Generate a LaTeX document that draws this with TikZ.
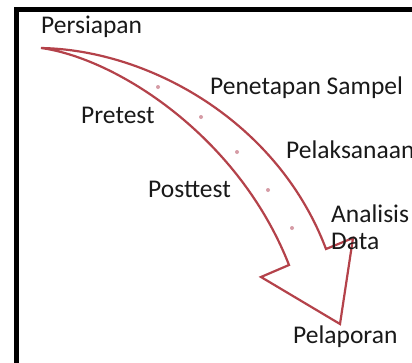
\documentclass[tikz,border=0pt]{standalone}
\usepackage{fontspec}
\setmainfont{Carlito}
\definecolor{arrowred}{RGB}{180,66,74}
\definecolor{dotpink}{RGB}{214,156,166}
\definecolor{textdark}{RGB}{25,25,25}
\begin{document}
\begin{tikzpicture}[x=1pt,y=-1pt,
  lbl/.style={anchor=base west,inner sep=0pt,text=textdark,font=\fontsize{25.5}{30}\selectfont},
  arrowline/.style={draw=arrowred,line width=2.2pt,line join=miter},
  dotmark/.style={fill=dotpink,draw=none}]
\useasboundingbox (0,0) rectangle (412,362);
\fill[white] (0,0) rectangle (412,362);
\draw[line width=4.5pt] (16.5,9.5) rectangle (440,390);
% arrow
\coordinate (s) at (41,48);
\coordinate (oe) at (326,249);
\coordinate (hr) at (353,238);
\coordinate (tip) at (340,324);
\coordinate (hl) at (261,277);
\coordinate (ie) at (289,265);
\draw[arrowline] (s) .. controls (150,50) and (278,122) .. (oe) -- (hr) -- (tip) -- (hl) -- (ie)
  .. controls (238,135) and (115,58) .. (s) -- cycle;
% dots
\foreach \p in {(158,87),(201,117),(237,152),(268,190),(292,228)}
  \fill[dotmark] \p circle (2pt);
% labels
\node[lbl] (persiapan) at (41,33) {Persiapan};
\node[lbl] (penetapan) at (210,94) {Penetapan Sampel};
\node[lbl] (pretest) at (81,123) {Pretest};
\node[lbl] (pelaksanaan) at (286,158) {Pelaksanaan};
\node[lbl] (posttest) at (148,197) {Posttest};
\node[lbl] (analisis) at (331,222) {Analisis};
\node[lbl] (data) at (331,249) {Data};
\node[lbl] (pelaporan) at (293,343) {Pelaporan};
\end{tikzpicture}
\end{document}
